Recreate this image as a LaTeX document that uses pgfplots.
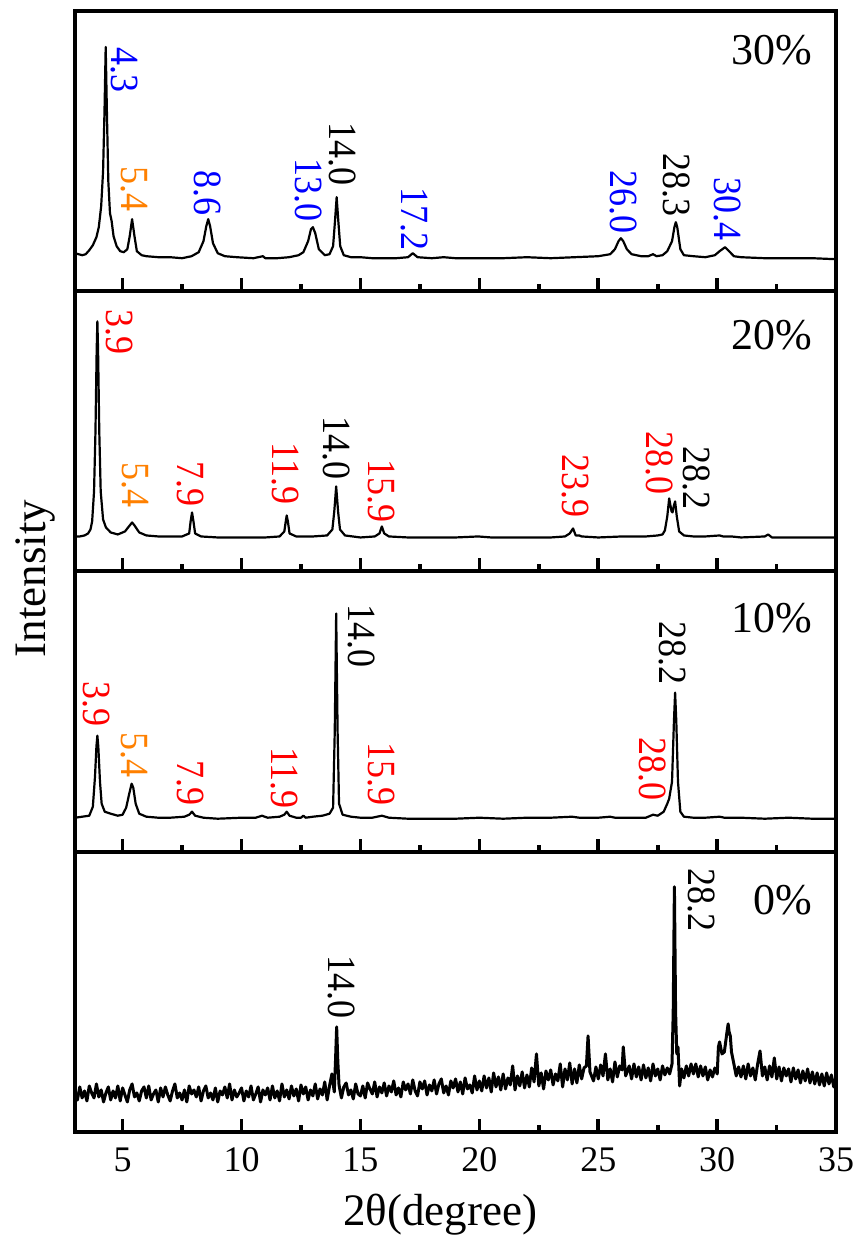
\documentclass[border=0pt]{standalone}
\usepackage{fontspec}
\setmainfont{Liberation Serif}
\newfontfamily\peakfont[FakeStretch=0.9]{Liberation Serif}
\usepackage{pgfplots}
\pgfplotsset{compat=1.18}
\usepgfplotslibrary{groupplots}

\definecolor{pkblue}{RGB}{0,0,255}
\definecolor{pkred}{RGB}{255,0,0}
\definecolor{pkorange}{RGB}{255,128,0}

% peak position label, read from top to bottom
\newcommand{\pk}[4]{\node[rotate=-90, anchor=west, inner sep=0pt, text=#4,
  font=\peakfont\fontsize{20bp}{20bp}\selectfont] at (axis cs:#1,#2) {#3};}
% sample label in the upper right corner
\newcommand{\smp}[2]{\node[anchor=base east, inner sep=0pt,
  font=\fontsize{22bp}{22bp}\selectfont] at (axis cs:34.0,#1) {#2};}

\pgfplotsset{
  xrd/.style={
    scale only axis, width=380.5bp, height=140.1bp,
    xmin=3, xmax=35, ymin=0, ymax=280,
    axis line style={line width=2bp},
    xtick={5,10,...,35}, minor xtick={7.5,12.5,...,32.5},
    tick align=inside, xtick pos=bottom, ytick=\empty,
    major tick length=6.5bp, minor tick length=3.5bp,
    every tick/.style={line width=1.8bp, black},
    /pgf/number format/assume math mode=true,
    xticklabel style={font=\fontsize{18bp}{18bp}\selectfont, yshift=-4.5bp},
  },
  spec/.style={black, line width=1.1bp, mark=none, line join=round},
}

\begin{document}
\begin{tikzpicture}
\begin{groupplot}[group style={group name=G, group size=1 by 4, vertical sep=0pt,
    xticklabels at=edge bottom}, xrd]

% ---------------- 30% ----------------
\nextgroupplot
\addplot[spec] coordinates {
(3.0,38) (3.15,37) (3.3,36) (3.45,37) (3.6,41) (3.75,46) (3.9,54) (4.0,64)
(4.1,85) (4.18,120) (4.24,180) (4.29,244) (4.34,180) (4.4,110) (4.47,78)
(4.54,70) (4.62,55) (4.75,45) (4.9,40) (5.05,39) (5.2,42) (5.3,55) (5.4,72)
(5.5,55) (5.6,40) (5.8,36) (6.0,35) (6.5,34) (7.0,34) (7.5,33) (7.9,35)
(8.2,39) (8.4,50) (8.52,65) (8.6,72) (8.68,65) (8.8,48) (9.0,38) (9.3,35)
(9.8,34) (10.5,33) (10.9,35) (11.0,33) (11.5,33) (12.0,34) (12.4,36) (12.6,39)
(12.8,50) (12.92,62) (13.0,64) (13.1,58) (13.25,42) (13.5,36) (13.7,37)
(13.85,45) (13.93,70) (14.0,94) (14.07,70) (14.15,45) (14.3,36) (14.6,34)
(15.0,34) (15.5,33) (16.0,33) (16.5,33) (17.0,34) (17.2,38) (17.4,34) (18.0,33)
(18.5,34) (19.0,33) (20.0,33) (21.0,33) (22.0,34) (23.0,33) (24.0,34) (25.0,35)
(25.5,37) (25.7,42) (25.85,50) (25.95,53) (26.05,50) (26.2,42) (26.4,37)
(26.8,35) (27.1,35) (27.3,37) (27.45,35) (27.7,36) (27.9,40) (28.1,50)
(28.2,64) (28.26,69) (28.32,64) (28.45,42) (28.6,36) (29.0,35) (29.5,34)
(29.9,36) (30.1,40) (30.33,44) (30.5,40) (30.7,35) (31.0,34) (32.0,33)
(33.0,33) (34.0,33) (35.0,32)
};
\pk{5.08}{244}{4.3}{pkblue}
\pk{5.48}{125}{5.4}{pkorange}
\pk{8.59}{121}{8.6}{pkblue}
\pk{12.80}{133}{13.0}{pkblue}
\pk{14.25}{169}{14.0}{black}
\pk{17.28}{104}{17.2}{pkblue}
\pk{26.04}{121}{26.0}{pkblue}
\pk{28.27}{138}{28.3}{black}
\pk{30.44}{114}{30.4}{pkblue}
\smp{227}{30\%}
\coordinate (TR) at (rel axis cs:1,1);

% ---------------- 20% ----------------
\nextgroupplot
\addplot[spec] coordinates {
(3.0,35) (3.2,35) (3.4,36) (3.55,38) (3.65,42) (3.72,50) (3.8,80) (3.86,140)
(3.91,220) (3.94,250) (3.97,220) (4.02,140) (4.08,80) (4.18,52) (4.3,44)
(4.5,39) (4.8,37) (5.1,40) (5.3,46) (5.4,49) (5.5,46) (5.7,39) (6.0,36)
(6.5,35) (7.0,35) (7.5,35) (7.8,38) (7.86,50) (7.92,59) (7.98,50) (8.05,38)
(8.3,35) (9.0,34) (10.0,34) (11.0,34) (11.6,35) (11.8,40) (11.86,50) (11.9,56)
(11.95,50) (12.02,38) (12.3,35) (13.0,35) (13.6,36) (13.82,42) (13.9,60)
(13.98,85) (14.06,60) (14.14,42) (14.35,36) (15.0,34) (15.6,35) (15.8,38)
(15.9,45) (16.0,38) (16.2,35) (17.0,34) (18.0,34) (19.0,34) (19.95,35)
(20.5,34) (21.0,34) (22.0,34) (23.0,34) (23.6,35) (23.8,38) (23.94,43)
(24.05,36) (24.2,36) (24.3,35) (25.0,34) (26.0,35) (27.0,35) (27.5,36)
(27.7,37) (27.8,41) (27.9,55) (27.98,73) (28.08,60) (28.12,59) (28.18,66)
(28.23,70) (28.3,55) (28.4,40) (28.6,36) (29.0,35) (29.5,35) (30.1,36)
(30.25,35) (30.6,35) (31.0,34) (32.0,35) (32.14,37) (32.3,34) (33.0,34)
(34.0,34) (35.0,34)
};
\pk{4.85}{262}{3.9}{pkred}
\pk{5.52}{109}{5.4}{pkorange}
\pk{7.86}{110}{7.9}{pkred}
\pk{11.83}{129}{11.9}{pkred}
\pk{13.98}{155}{14.0}{black}
\pk{15.87}{112}{15.9}{pkred}
\pk{24.03}{117}{23.9}{pkred}
\pk{27.56}{140}{28.0}{pkred}
\pk{29.11}{125}{28.2}{black}
\smp{222}{20\%}

% ---------------- 10% ----------------
\nextgroupplot[ylabel={Intensity},
  ylabel style={at={(axis description cs:-0.0526,0.975)}, anchor=center,
    font=\fontsize{22.5bp}{22.5bp}\selectfont}]
\addplot[spec] coordinates {
(3.0,34) (3.3,35) (3.6,36) (3.75,45) (3.84,75) (3.9,105) (3.94,116) (3.98,105)
(4.05,70) (4.12,48) (4.25,40) (4.5,38) (4.8,36) (5.0,37) (5.15,44) (5.28,58)
(5.38,68) (5.45,64) (5.55,48) (5.7,38) (6.0,35) (6.5,34) (7.0,34) (7.6,35)
(7.8,37) (7.92,40) (8.05,36) (8.4,34) (9.0,33) (10.0,34) (10.6,34) (10.86,36)
(11.1,34) (11.6,35) (11.8,37) (11.9,40) (12.02,36) (12.3,34) (12.5,34)
(12.6,36) (12.7,34) (13.0,35) (13.4,36) (13.7,38) (13.85,44) (13.92,120)
(13.98,238) (14.04,120) (14.1,48) (14.25,37) (14.6,35) (15.0,34) (15.5,34)
(15.9,36) (16.2,34) (17.0,33) (18.0,33) (19.0,33) (20.0,34) (21.0,33) (22.0,34)
(23.0,34) (23.9,35) (24.2,34) (25.0,34) (25.5,35) (25.7,34) (26.5,34) (27.0,34)
(27.3,37) (27.5,36) (27.75,40) (27.9,48) (27.98,53) (28.1,70) (28.18,130)
(28.23,159) (28.28,130) (28.35,70) (28.45,40) (28.6,35) (29.0,34) (29.5,34)
(30.1,35) (30.3,34) (31.0,34) (32.0,33) (33.0,34) (34.0,33) (35.0,33)
};
\pk{3.90}{170}{3.9}{pkred}
\pk{5.48}{120}{5.4}{pkorange}
\pk{7.86}{92}{7.9}{pkred}
\pk{11.79}{105}{11.9}{pkred}
\pk{15.03}{247}{14.0}{black}
\pk{15.87}{110}{15.9}{pkred}
\pk{27.29}{115}{28.0}{pkred}
\pk{28.13}{230}{28.2}{black}
\smp{219}{10\%}

% ---------------- 0% ----------------
\nextgroupplot[xlabel={2θ(degree)},
  xlabel style={at={(axis description cs:0.48,0)}, anchor=north, yshift=-31bp,
    inner sep=0pt, font=\fontsize{22.5bp}{22.5bp}\selectfont}]
\addplot[spec, line width=1.5bp] coordinates {
(3.0,38) (3.1,32) (3.2,45) (3.3,34) (3.4,41) (3.5,31) (3.6,46) (3.7,39) (3.8,34) (3.9,48)
(4.0,35) (4.1,42) (4.2,30) (4.3,39) (4.4,45) (4.5,32) (4.6,41) (4.7,34) (4.8,46) (4.9,31)
(5.0,44) (5.1,37) (5.2,30) (5.3,42) (5.4,48) (5.5,35) (5.6,39) (5.7,31) (5.8,41) (5.9,45)
(6.0,34) (6.1,46) (6.2,32) (6.3,38) (6.4,42) (6.5,30) (6.6,44) (6.7,35) (6.8,45) (6.9,37)
(7.0,31) (7.1,41) (7.2,48) (7.3,34) (7.4,39) (7.5,32) (7.6,42) (7.7,30) (7.8,46) (7.9,38)
(8.0,42) (8.1,35) (8.2,45) (8.3,31) (8.4,41) (8.5,46) (8.6,34) (8.7,39) (8.8,32) (8.9,44)
(9.0,30) (9.1,41) (9.2,37) (9.3,45) (9.4,34) (9.5,48) (9.6,32) (9.7,42) (9.8,35) (9.9,39)
(10.0,44) (10.1,31) (10.2,41) (10.3,35) (10.4,46) (10.5,32) (10.6,38) (10.7,45) (10.8,30) (10.9,42)
(11.0,37) (11.1,44) (11.2,32) (11.3,46) (11.4,34) (11.5,41) (11.6,31) (11.7,48) (11.8,35) (11.9,42)
(12.0,33) (12.1,46) (12.2,36) (12.3,43) (12.4,31) (12.5,47) (12.6,38) (12.7,45) (12.8,32) (12.9,42)
(13.0,36) (13.1,48) (13.2,33) (13.3,43) (13.4,37) (13.5,50) (13.6,32) (13.7,46) (13.8,58) (13.9,40)
(13.95,70) (14.0,105) (14.05,70) (14.1,47) (14.2,34) (14.3,45) (14.4,49) (14.5,37) (14.6,42)
(14.7,33) (14.8,48) (14.9,38)
(15.0,36) (15.1,46) (15.2,34) (15.3,49) (15.4,43) (15.5,38) (15.6,50) (15.7,35) (15.8,45) (15.9,39)
(16.0,49) (16.1,36) (16.2,46) (16.3,40) (16.4,51) (16.5,37) (16.6,44) (16.7,35) (16.8,50) (16.9,42)
(17.0,48) (17.1,38) (17.2,52) (17.3,41) (17.4,36) (17.5,50) (17.6,43) (17.7,51) (17.8,37) (17.9,47)
(18.0,41) (18.1,52) (18.2,38) (18.3,48) (18.4,53) (18.5,39) (18.6,46) (18.7,37) (18.8,51) (18.9,44)
(19.0,53) (19.1,40) (19.2,50) (19.3,38) (19.4,54) (19.5,43) (19.6,47) (19.7,39) (19.8,56) (19.9,42)
(20.0,51) (20.1,41) (20.2,56) (20.3,44) (20.4,54) (20.5,40) (20.6,59) (20.7,45) (20.8,55) (20.9,42)
(21.0,58) (21.1,43) (21.2,54) (21.3,47) (21.4,66) (21.5,42) (21.6,56) (21.7,46) (21.8,60) (21.9,44)
(22.0,57) (22.1,45) (22.2,64) (22.3,50) (22.4,78) (22.5,46) (22.6,59) (22.7,43) (22.8,61) (22.9,52)
(23.0,62) (23.1,47) (23.2,58) (23.3,51) (23.4,68) (23.5,45) (23.6,63) (23.7,52) (23.8,69) (23.9,48)
(24.0,63) (24.1,49) (24.2,67) (24.3,53) (24.4,64) (24.5,66) (24.57,96) (24.65,60) (24.8,51) (24.9,65)
(25.0,53) (25.1,67) (25.2,56) (25.3,78) (25.4,52) (25.5,63) (25.6,50) (25.7,70) (25.8,55) (25.9,66)
(26.0,62) (26.05,85) (26.15,56) (26.3,66) (26.4,53) (26.5,68) (26.6,55) (26.7,65) (26.8,52) (26.9,67)
(27.0,54) (27.1,64) (27.2,51) (27.3,68) (27.4,56) (27.5,63) (27.6,52) (27.7,66) (27.8,57) (27.9,64)
(28.0,58) (28.1,68) (28.15,120) (28.2,245) (28.25,120) (28.3,78) (28.35,85) (28.42,46) (28.5,63)
(28.6,54) (28.7,66) (28.8,56) (28.9,68)
(29.0,58) (29.1,68) (29.2,55) (29.3,66) (29.4,56) (29.5,65) (29.6,52) (29.7,62) (29.8,55) (29.9,64)
(30.0,58) (30.05,85) (30.1,90) (30.2,78) (30.3,80) (30.4,98) (30.46,108) (30.5,100) (30.55,96)
(30.6,80) (30.7,68) (30.8,56) (30.9,65)
(31.0,55) (31.1,66) (31.2,53) (31.3,68) (31.4,56) (31.5,64) (31.6,52) (31.7,68) (31.8,81) (31.9,56)
(32.0,65) (32.1,52) (32.2,66) (32.3,55) (32.4,74) (32.5,53) (32.6,65) (32.7,51) (32.8,64) (32.9,56)
(33.0,63) (33.1,50) (33.2,64) (33.3,53) (33.4,62) (33.5,49) (33.6,61) (33.7,51) (33.8,63) (33.9,49)
(34.0,60) (34.1,48) (34.2,59) (34.3,47) (34.4,58) (34.5,46) (34.6,59) (34.7,48) (34.8,57) (34.9,45)
(35.0,56)
};
\pk{14.21}{177}{14.0}{black}
\pk{29.35}{264}{28.2}{black}
\smp{217}{0\%}
\coordinate (BL) at (rel axis cs:0,0);
\end{groupplot}
% page area around the panels
\path ([shift={(-37.5bp,-54.5bp)}]BL) rectangle ([shift={(10bp,5.5bp)}]TR);
\end{tikzpicture}
\end{document}
